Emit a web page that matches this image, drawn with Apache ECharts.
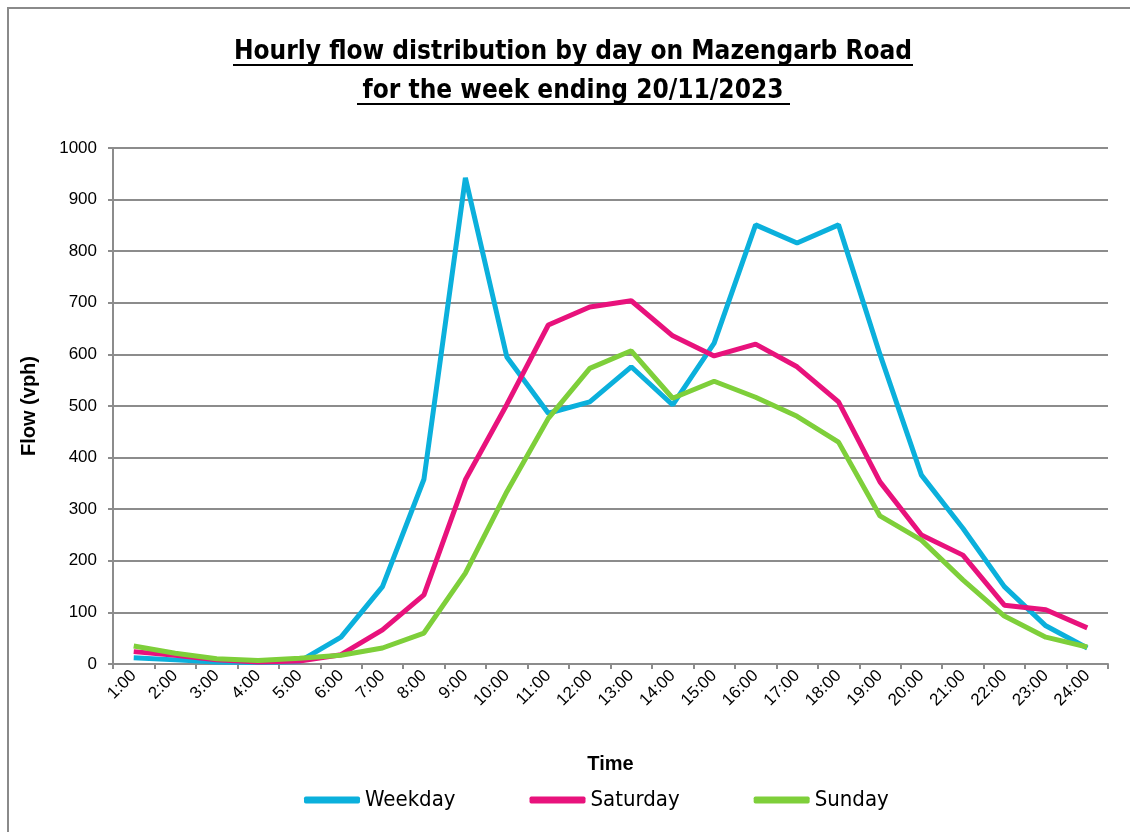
<!DOCTYPE html>
<html>
<head>
<meta charset="utf-8">
<script src="https://cdn.jsdelivr.net/npm/echarts@6/dist/echarts.min.js"></script>
<style>
  html, body { margin: 0; padding: 0; background: #fff; }
  #chart { width: 1130px; height: 832px; }
</style>
</head>
<body>
<div id="chart"></div>
<script>
const hours = ['1:00','2:00','3:00','4:00','5:00','6:00','7:00','8:00','9:00','10:00','11:00','12:00',
  '13:00','14:00','15:00','16:00','17:00','18:00','19:00','20:00','21:00','22:00','23:00','24:00'];
const weekday  = [12, 8, 4, 3, 5, 52, 150, 358, 942, 595, 486, 508, 576, 502, 622, 851, 816, 851, 600, 366, 263, 150, 74, 31];
const saturday = [24, 17, 8, 4, 6, 18, 66, 134, 357, 503, 657, 692, 704, 636, 597, 620, 576, 508, 353, 250, 211, 114, 105, 70];
const sunday   = [35, 21, 10, 7, 11, 17, 31, 60, 176, 334, 476, 573, 607, 515, 548, 517, 480, 430, 287, 240, 163, 93, 52, 33];
const yTicks = { min: 0, max: 1000, interval: 100 };

const chart = echarts.init(document.getElementById('chart'));
const F = '"Liberation Sans", Arial, sans-serif';
const FT = '"Liberation Sans Narrow", "DejaVu Sans Condensed", sans-serif';
const gray = '#8c8c8c';
chart.setOption({
  animation: false,
  backgroundColor: '#fff',
  graphic: [
    { type: 'rect', shape: { x: 8, y: 8, width: 1140, height: 900 }, style: { fill: 'none', stroke: '#8a8a8a', lineWidth: 2 } },
    { type: 'text', x: 573, y: 39, style: { text: 'Hourly flow distribution by day on Mazengarb Road', font: 'bold 26px ' + FT, fill: '#000', textAlign: 'center' } },
    { type: 'text', x: 573, y: 78, style: { text: 'for the week ending 20/11/2023', font: 'bold 26px ' + FT, fill: '#000', textAlign: 'center' } },
    { type: 'line', shape: { x1: 233, y1: 65, x2: 913, y2: 65 }, style: { stroke: '#000', lineWidth: 2 } },
    { type: 'line', shape: { x1: 357, y1: 104, x2: 790, y2: 104 }, style: { stroke: '#000', lineWidth: 2 } }
  ],
  grid: { left: 113, right: 22, top: 148, bottom: 168, containLabel: false },
  legend: {
    bottom: 16, left: 299,
    itemWidth: 56, itemHeight: 7, itemGap: 74, icon: 'roundRect',
    textStyle: { fontFamily: FT, fontSize: 22, color: '#000' },
    data: ['Weekday', 'Saturday', 'Sunday']
  },
  xAxis: {
    type: 'category', data: hours, boundaryGap: true,
    name: 'Time', nameLocation: 'middle', nameGap: 90,
    nameTextStyle: { fontFamily: F, fontWeight: 'bold', fontSize: 20, color: '#000' },
    axisLine: { lineStyle: { color: gray, width: 2 } },
    axisTick: { show: true, alignWithLabel: false, length: 5, lineStyle: { color: gray, width: 2 } },
    axisLabel: { rotate: 45, interval: 0, fontFamily: F, fontSize: 17, color: '#000', margin: 9 },
    splitLine: { show: false }
  },
  yAxis: {
    type: 'value', min: yTicks.min, max: yTicks.max, interval: yTicks.interval,
    name: 'Flow (vph)', nameLocation: 'middle', nameGap: 74, nameRotate: 90,
    nameTextStyle: { fontFamily: F, fontWeight: 'bold', fontSize: 20, color: '#000' },
    axisLine: { show: true, lineStyle: { color: gray, width: 2 } },
    axisTick: { show: true, length: 5, lineStyle: { color: gray, width: 2 } },
    axisLabel: { fontFamily: F, fontSize: 17, color: '#000', margin: 16, formatter: v => String(v) },
    splitLine: { show: true, lineStyle: { color: gray, width: 2 } }
  },
  series: [
    { name: 'Weekday', type: 'line', data: weekday, symbol: 'none', color: '#0bb0dc', lineStyle: { width: 5, color: '#0bb0dc' } },
    { name: 'Saturday', type: 'line', data: saturday, symbol: 'none', color: '#e8127c', lineStyle: { width: 5, color: '#e8127c' } },
    { name: 'Sunday', type: 'line', data: sunday, symbol: 'none', color: '#7ecf3a', lineStyle: { width: 5, color: '#7ecf3a' } }
  ]
});
</script>
</body>
</html>
